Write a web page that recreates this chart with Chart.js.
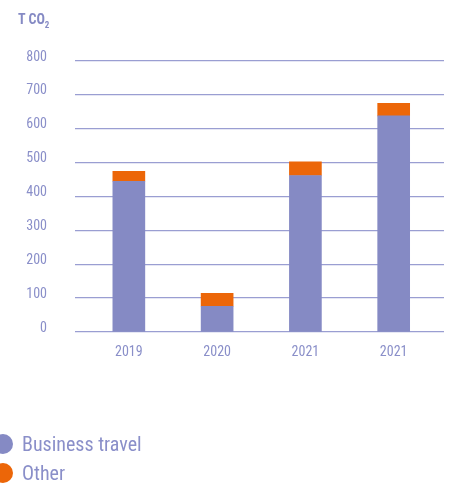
<!DOCTYPE html>
<html>
<head>
<meta charset="utf-8">
<script src="https://cdn.jsdelivr.net/npm/chart.js@4.4.1/dist/chart.umd.min.js"></script>
<style>
  html, body { margin: 0; padding: 0; background: #ffffff; overflow: hidden; }
  #wrap { position: relative; width: 455px; height: 484px; }
  #c { position: absolute; left: 0; top: 0; }
  .narrow { font-family: 'Liberation Sans Narrow', 'Roboto Condensed', 'DejaVu Sans Condensed', sans-serif; }
  #unit { position: absolute; left: 18px; top: 11px; font-size: 14px; font-weight: bold; color: #858ac4; }
  #unit sub { font-size: 9px; vertical-align: -4px; line-height: 0; }
  #legend { position: absolute; left: -7px; top: 429px; font-size: 20px; color: #8a8fc9; }
  #legend .item { display: flex; align-items: center; height: 29px; white-space: nowrap; }
  #legend .dot { width: 20px; height: 20px; border-radius: 50%; margin-right: 9px; flex: none; }
</style>
</head>
<body>
<div id="wrap">
  <canvas id="c" width="455" height="484"></canvas>
  <div id="unit" class="narrow">T CO<sub>2</sub></div>
  <div id="legend" class="narrow"></div>
</div>
<script>
// ---- data ----
const categories = ['2019', '2020', '2021', '2021'];
const businessTravel = [445, 76, 462, 638];
const other = [29, 38, 40, 37];
const seriesNames = ['Business travel', 'Other'];
const seriesColors = ['#858ac4', '#ec6608'];
const yTicks = [0, 100, 200, 300, 400, 500, 600, 700, 800];

const FONT = "'Liberation Sans Narrow', 'Roboto Condensed', 'DejaVu Sans Condensed', sans-serif";
const TEXT = '#8a8fc9';

const toPoints = arr => arr.map((v, i) => ({ x: i, y: v }));

const chart = new Chart(document.getElementById('c'), {
  type: 'bar',
  data: {
    datasets: [
      { label: seriesNames[0], data: toPoints(businessTravel), backgroundColor: seriesColors[0], barThickness: 32, borderWidth: 0 },
      { label: seriesNames[1], data: toPoints(other), backgroundColor: seriesColors[1], barThickness: 32, borderWidth: 0 }
    ]
  },
  options: {
    responsive: false,
    animation: false,
    layout: { padding: { left: 0, right: 11, top: 61, bottom: 123 } },
    plugins: { legend: { display: false }, tooltip: { enabled: false } },
    scales: {
      x: {
        type: 'linear',
        stacked: true,
        offset: false,
        min: -0.61,
        max: 3.57,
        grid: { display: false, drawTicks: false },
        border: { display: false },
        afterBuildTicks: s => { s.ticks = categories.map((_, i) => ({ value: i })); },
        afterFit: s => { s.height = 29; s.paddingLeft = 0; s.paddingRight = 0; },
        ticks: {
          autoSkip: false,
          maxRotation: 0,
          padding: 12,
          color: TEXT,
          font: { family: FONT, size: 14 },
          callback: v => categories[v] ?? ''
        }
      },
      y: {
        stacked: true,
        min: yTicks[0],
        max: yTicks[yTicks.length - 1],
        afterBuildTicks: s => { s.ticks = yTicks.map(v => ({ value: v })); },
        afterFit: s => { s.width = 75; s.paddingTop = 0; s.paddingBottom = 0; },
        grid: { color: '#9a9ed2', lineWidth: 1.3, drawTicks: false },
        border: { display: false },
        ticks: {
          padding: 28,
          labelOffset: -4,
          color: TEXT,
          font: { family: FONT, size: 14 }
        }
      }
    }
  }
});

// HTML legend built from the chart's datasets
const legend = document.getElementById('legend');
chart.data.datasets.forEach(ds => {
  const item = document.createElement('div');
  item.className = 'item';
  const dot = document.createElement('span');
  dot.className = 'dot';
  dot.style.background = ds.backgroundColor;
  const txt = document.createElement('span');
  txt.textContent = ds.label;
  item.appendChild(dot);
  item.appendChild(txt);
  legend.appendChild(item);
});
</script>
</body>
</html>
